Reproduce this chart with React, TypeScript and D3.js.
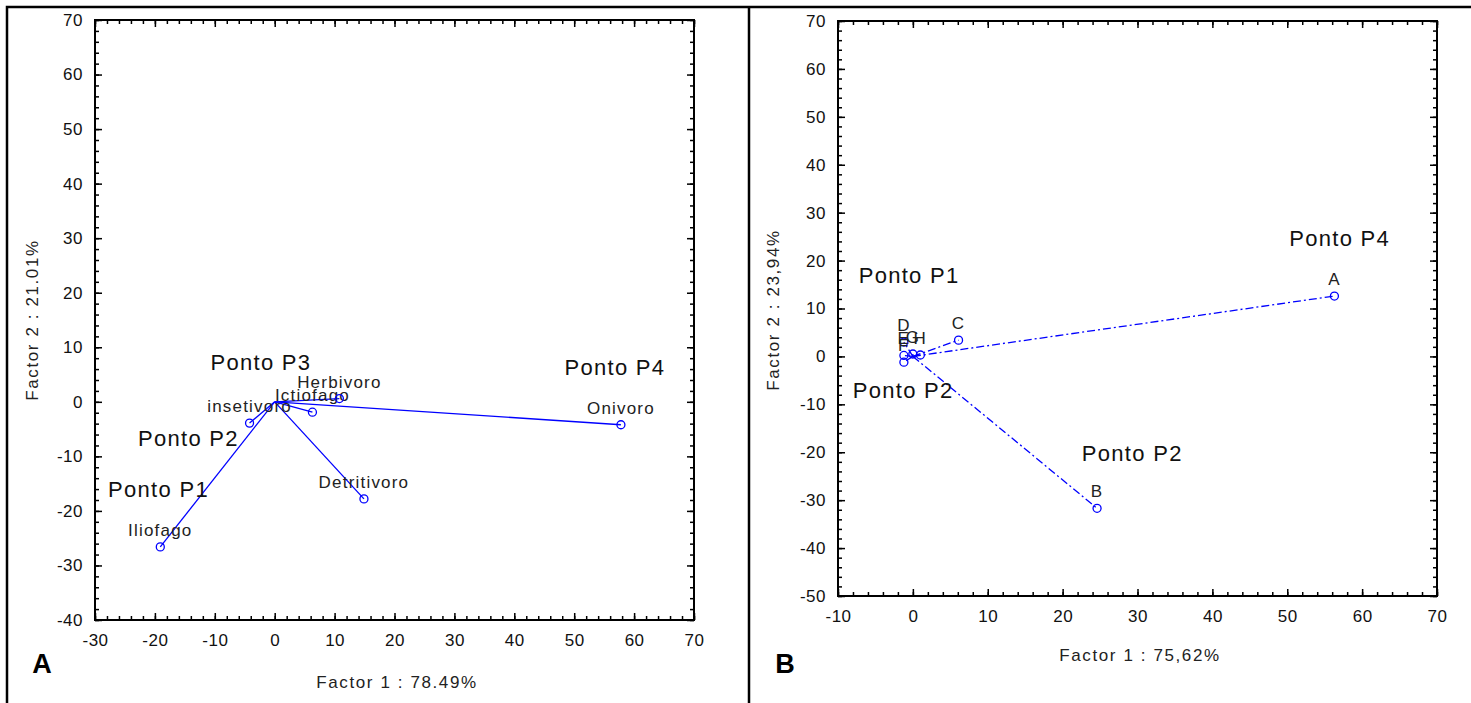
import React, { useEffect, useRef } from "react";
import * as d3 from "d3";

// painel A
const aNames = ["Iliofago", "insetivoro", "Ictiofago", "Herbivoro", "Detritivoro", "Onivoro"];
const aX = [-19.1, -4.2, 6.3, 10.8, 14.9, 57.8];
const aY = [-26.6, -3.9, -1.9, 0.6, -17.8, -4.2];
const aPonto = ["Ponto P1", "Ponto P2", "Ponto P3", "Ponto P4"];
const aPontoX = [-19.4, -14.4, -2.3, 56.8];
const aPontoY = [-16.0, -6.6, 7.3, 6.4];
const aXTicks = [-30, -20, -10, 0, 10, 20, 30, 40, 50, 60, 70];
const aYTicks = [-40, -30, -20, -10, 0, 10, 20, 30, 40, 50, 60, 70];

// painel B
const bNames = ["A", "B", "C", "D", "E", "F", "G", "H"];
const bX = [56.3, 24.6, 6.1, -1.2, -1.2, -1.2, 0.0, 1.0];
const bY = [12.6, -31.7, 3.4, 3.0, 0.2, -1.2, 0.5, 0.3];
const bPonto = ["Ponto P4", "Ponto P1", "Ponto P2", "Ponto P2"];
const bPontoX = [57.0, -0.5, -1.3, 29.3];
const bPontoY = [24.7, 17.0, -7.0, -20.2];
const bXTicks = [-10, 0, 10, 20, 30, 40, 50, 60, 70];
const bYTicks = [-50, -40, -30, -20, -10, 0, 10, 20, 30, 40, 50, 60, 70];

const FONT = "'Liberation Sans', Arial, sans-serif";

const panels = [
  {
    names: aNames, xs: aX, ys: aY,
    ponto: aPonto, pontoX: aPontoX, pontoY: aPontoY,
    xTicks: aXTicks, yTicks: aYTicks,
    xTitle: "Factor 1 : 78.49%", yTitle: "Factor 2 : 21.01%", letter: "A",
    left: 95, right: 694, top: 20, bottom: 620,
    xTitlePos: [397, 682], yTitlePos: [32, 320], letterPos: [42, 673],
    dash: null,
  },
  {
    names: bNames, xs: bX, ys: bY,
    ponto: bPonto, pontoX: bPontoX, pontoY: bPontoY,
    xTicks: bXTicks, yTicks: bYTicks,
    xTitle: "Factor 1 : 75,62%", yTitle: "Factor 2 : 23,94%", letter: "B",
    left: 838, right: 1437, top: 21, bottom: 596,
    xTitlePos: [1140, 655], yTitlePos: [773, 310], letterPos: [785, 673],
    dash: "8,3,2,3",
  },
];

const App = () => {
  const svgRef = useRef<SVGSVGElement>(null);

  useEffect(() => {
    const svg = d3.select(svgRef.current);
    svg.selectAll("*").remove();

    svg.append("rect").attr("width", 1471).attr("height", 703).attr("fill", "#fff");

    // moldura externa
    svg.append("path")
      .attr("d", "M7,703 V7 H1471 M749,7 V703")
      .attr("fill", "none")
      .attr("stroke", "#000")
      .attr("stroke-width", 2.5);

    const fmt = (d: any) => String(d); // hífen simples, como no original

    panels.forEach((p) => {
      const first = p.xTicks[0], last = p.xTicks[p.xTicks.length - 1];
      const yFirst = p.yTicks[0], yLast = p.yTicks[p.yTicks.length - 1];
      const x = d3.scaleLinear().domain([first, last]).range([p.left, p.right]);
      const y = d3.scaleLinear().domain([yFirst, yLast]).range([p.bottom, p.top]);
      const minorX = d3.range(first, last + 0.1, 2);
      const minorY = d3.range(yFirst, yLast + 0.1, 2);

      const g = svg.append("g").style("font-family", FONT);

      const styleAxis = (a: any) => {
        a.select(".domain").remove();
        a.selectAll(".tick line").attr("stroke", "#000").attr("stroke-width", 1.5);
        a.selectAll("text")
          .attr("fill", "#111")
          .style("font-size", "17px")
          .style("letter-spacing", "0.5px")
          .style("font-family", FONT);
      };

      // eixos: marcas principais e secundárias, todas para dentro
      g.append("g").attr("transform", `translate(0,${p.bottom})`)
        .call(d3.axisBottom(x).tickValues(p.xTicks).tickSize(-7).tickPadding(14).tickFormat(fmt))
        .call(styleAxis);
      g.append("g").attr("transform", `translate(0,${p.bottom})`)
        .call(d3.axisBottom(x).tickValues(minorX).tickSize(-4).tickFormat(() => ""))
        .call(styleAxis);
      g.append("g").attr("transform", `translate(0,${p.top})`)
        .call(d3.axisTop(x).tickValues(p.xTicks).tickSize(-7).tickFormat(() => ""))
        .call(styleAxis);
      g.append("g").attr("transform", `translate(0,${p.top})`)
        .call(d3.axisTop(x).tickValues(minorX).tickSize(-4).tickFormat(() => ""))
        .call(styleAxis);
      g.append("g").attr("transform", `translate(${p.left},0)`)
        .call(d3.axisLeft(y).tickValues(p.yTicks).tickSize(-7).tickPadding(12).tickFormat(fmt))
        .call(styleAxis);
      g.append("g").attr("transform", `translate(${p.left},0)`)
        .call(d3.axisLeft(y).tickValues(minorY).tickSize(-4).tickFormat(() => ""))
        .call(styleAxis);
      g.append("g").attr("transform", `translate(${p.right},0)`)
        .call(d3.axisRight(y).tickValues(p.yTicks).tickSize(-7).tickFormat(() => ""))
        .call(styleAxis);
      g.append("g").attr("transform", `translate(${p.right},0)`)
        .call(d3.axisRight(y).tickValues(minorY).tickSize(-4).tickFormat(() => ""))
        .call(styleAxis);

      g.append("rect")
        .attr("x", p.left).attr("y", p.top)
        .attr("width", p.right - p.left).attr("height", p.bottom - p.top)
        .attr("fill", "none").attr("stroke", "#000").attr("stroke-width", 2);

      // linhas a partir da origem
      p.xs.forEach((v, i) => {
        g.append("line")
          .attr("x1", x(0)).attr("y1", y(0))
          .attr("x2", x(v)).attr("y2", y(p.ys[i]))
          .attr("stroke", "#0000ff")
          .attr("stroke-width", 1.3)
          .attr("stroke-dasharray", p.dash);
      });

      p.xs.forEach((v, i) => {
        g.append("circle")
          .attr("cx", x(v)).attr("cy", y(p.ys[i]))
          .attr("r", 4)
          .attr("fill", "none")
          .attr("stroke", "#0000ff")
          .attr("stroke-width", 1.3);
        g.append("text")
          .attr("x", x(v)).attr("y", y(p.ys[i]) - 11)
          .attr("text-anchor", "middle")
          .style("font-size", "17px")
          .style("letter-spacing", "1.2px")
          .attr("fill", "#222")
          .text(p.names[i]);
      });

      p.ponto.forEach((t, i) => {
        g.append("text")
          .attr("x", x(p.pontoX[i])).attr("y", y(p.pontoY[i]))
          .attr("dy", "0.35em")
          .attr("text-anchor", "middle")
          .style("font-size", "22px")
          .style("letter-spacing", "1.3px")
          .attr("fill", "#111")
          .text(t);
      });

      g.append("text")
        .attr("x", p.xTitlePos[0]).attr("y", p.xTitlePos[1])
        .attr("dy", "0.35em")
        .attr("text-anchor", "middle")
        .style("font-size", "17px")
        .style("letter-spacing", "1.6px")
        .attr("fill", "#222")
        .text(p.xTitle);

      g.append("text")
        .attr("transform", `translate(${p.yTitlePos[0]},${p.yTitlePos[1]}) rotate(-90)`)
        .attr("dy", "0.35em")
        .attr("text-anchor", "middle")
        .style("font-size", "17px")
        .style("letter-spacing", "1.6px")
        .attr("fill", "#222")
        .text(p.yTitle);

      g.append("text")
        .attr("x", p.letterPos[0]).attr("y", p.letterPos[1])
        .attr("text-anchor", "middle")
        .style("font-size", "27px")
        .style("font-weight", "bold")
        .attr("fill", "#000")
        .text(p.letter);
    });
  }, []);

  return (
    <div style={{ position: "absolute", left: 0, top: 0 }}>
      <svg ref={svgRef} width={1471} height={703} style={{ display: "block" }} />
    </div>
  );
};

export default App;
